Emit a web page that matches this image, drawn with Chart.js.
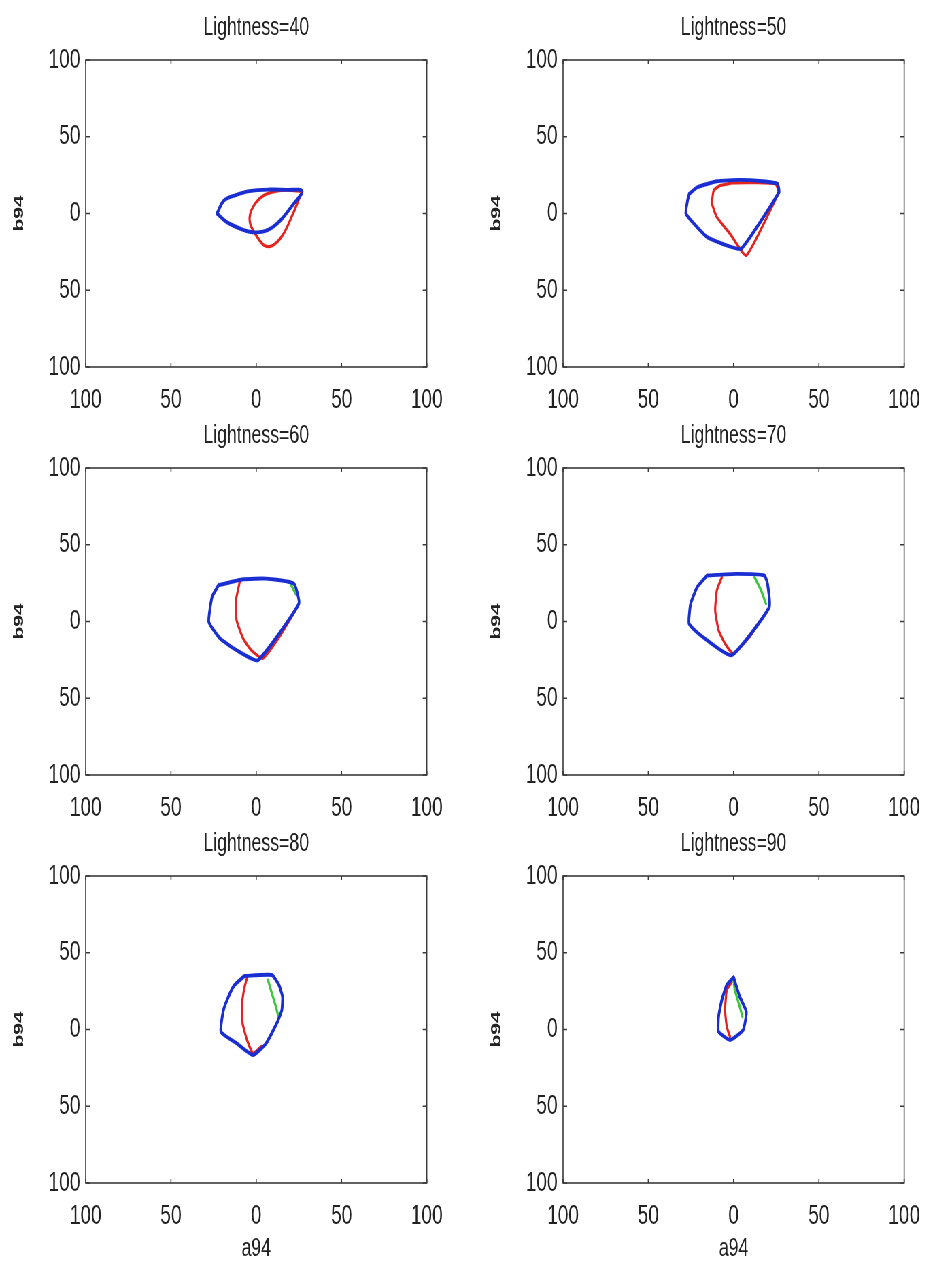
<!DOCTYPE html>
<html>
<head>
<meta charset="utf-8">
<title>Lightness slices</title>
<script src="https://cdn.jsdelivr.net/npm/chart.js@4/dist/chart.umd.min.js"></script>
<style>
    html, body {
        margin: 0;
        padding: 0;
        background: #fff;
        overflow: hidden;
    }
    /* the panels are laid out wide and squeezed horizontally, giving the tall narrow lettering */
    #sheet {
        position: relative;
        width: 1371px;
        height: 1268px;
        transform: scaleX(0.68);
        transform-origin: 0 0;
    }
    #sheet canvas {
        position: absolute;
    }
</style>
</head>
<body>
<div id="sheet">
    <canvas id="p40" width="667" height="408" style="left:0;top:0"></canvas>
    <canvas id="p50" width="667" height="408" style="left:702px;top:0"></canvas>
    <canvas id="p60" width="667" height="408" style="left:0;top:408px"></canvas>
    <canvas id="p70" width="667" height="408" style="left:702px;top:408px"></canvas>
    <canvas id="p80" width="667" height="452" style="left:0;top:816px"></canvas>
    <canvas id="p90" width="667" height="452" style="left:702px;top:816px"></canvas>
</div>

<script>
// Axis ticks (labels are shown without sign)
const axisTicks = [-100, -50, 0, 50, 100];

// Gamut outlines per lightness, [a94, b94] pairs
const blue40 = [[-23, 0], [-19, 8.4], [-12, 12], [-4, 14.6], [7.7, 15.6], [18, 15.4], [26.9, 14.5],
    [21, 5], [15, -3.5], [9.6, -8.9], [4, -11.8], [-2, -12.2], [-7.7, -10.6], [-17.3, -5.6], [-23, 0]];
const red40 = [[26.9, 14.5], [18, 15.2], [11.5, 14.5], [4.8, 12.1], [0, 7.4], [-3.5, 0], [-3.5, -6.7],
    [0, -14.3], [4.8, -20.8], [9.6, -20.8], [15.4, -14.3], [21.1, -1.3], [26.9, 14.5]];
const green40 = [];

const blue50 = [[-26, 12.8], [-21.3, 17.1], [-9.8, 21], [3.6, 21.9], [17.1, 21], [25.7, 19.3], [26.6, 13.8],
    [4.6, -22.9], [-4, -20.8], [-15.5, -15.4], [-23.2, -6.7], [-28, 0], [-27, 8.4], [-26, 12.8]];
const red50 = [[26.6, 13.8], [7.5, -27.3], [-2.1, -13.2], [-9.8, -2.4], [-12.6, 6.3], [-11.7, 14.9],
    [-7.9, 18.2], [-0.2, 19.9], [13.2, 20.1], [24.7, 19.3], [26.6, 13.8]];
const green50 = [];

const blue60 = [[-22.1, 23.6], [-7.7, 27.5], [5.8, 27.9], [22.1, 24.6], [25, 11.6], [1, -25.2],
    [-11.5, -18.7], [-21.1, -11.2], [-27.8, -0.3], [-25.9, 16], [-22.1, 23.6]];
const red60 = [[-9.6, 26.2], [-11.9, 13.8], [-11.5, 0.8], [-7.7, -11.1], [-2.9, -18.7], [3.8, -24.1],
    [13.4, -10.2], [24, 9.3]];
const green60 = [[20.2, 24.2], [23.1, 18.1]];

const blue70 = [[-15.5, 30], [1.7, 31], [18, 30], [19.9, 24.6], [20.9, 9.3], [-1.1, -21.9],
    [-19.4, -8.9], [-26.1, -1.4], [-25.2, 11.5], [-21.3, 22.5], [-15.5, 30]];
const red70 = [[-6.9, 28.8], [-9.8, 20.3], [-10.8, 7.3], [-8.8, -5.7], [-5, -14.4], [-0.2, -20.9],
    [9.4, -10], [15.1, -0.3]];
const green70 = [[12.3, 28.8], [16.1, 20.3], [19, 11.6]];

const blue80 = [[-6.9, 34.9], [9.2, 35.5], [13.3, 29], [15.4, 21.4], [15, 12.7], [12.5, 5.1], [5.8, -9],
    [-1.9, -16.6], [-11.5, -9], [-20.7, -1.4], [-19.2, 12.7], [-15.4, 23.6], [-12.7, 29], [-6.9, 34.9]];
const red80 = [[-5.2, 34.5], [-7.2, 26], [-8.4, 15], [-8, 4], [-5.5, -6.5], [-1.9, -15.5], [3, -11]];
const green80 = [[6.9, 32.2], [8.6, 25.7], [11.5, 14.9], [13, 8.4]];

const blue90 = [[0, 34], [3.6, 21.3], [7.5, 11.5], [5.6, -0.3], [-2.1, -6.8], [-8.8, -1.4], [-8.8, 8.4],
    [-6.9, 19.2], [-4, 29], [0, 34]];
const red90 = [[-1.1, 31], [-4, 25.7], [-5, 12.7], [-4, 1.8], [-2.1, -4.7]];
const green90 = [[0, 32], [0.7, 25.7], [3.6, 14.9], [5.2, 8.4]];

const FONT = "'Liberation Sans', Arial, Helvetica, sans-serif";
const INK = '#222';

Chart.defaults.font.family = FONT;
Chart.defaults.color = INK;

// Box around the plot area plus short inward ticks on all four sides
const frameTicks = {
    id: 'frameTicks',
    afterDatasetsDraw(chart) {
        const { ctx, chartArea: { left, right, top, bottom }, scales: { x, y } } = chart;
        ctx.save();
        ctx.strokeStyle = '#3a3a3a';
        ctx.lineWidth = 1.6;
        ctx.strokeRect(left, top, right - left, bottom - top);
        ctx.beginPath();
        x.ticks.forEach(t => {
            const px = x.getPixelForValue(t.value);
            ctx.moveTo(px, bottom); ctx.lineTo(px, bottom - 4);
            ctx.moveTo(px, top); ctx.lineTo(px, top + 4);
        });
        y.ticks.forEach(t => {
            const py = y.getPixelForValue(t.value);
            ctx.moveTo(left, py); ctx.lineTo(left + 6, py);
            ctx.moveTo(right, py); ctx.lineTo(right - 6, py);
        });
        ctx.stroke();
        ctx.restore();
    }
};

function toPoints(pairs) {
    return pairs.map(p => ({ x: p[0], y: p[1] }));
}

function line(pairs, color, width, tension) {
    return {
        data: toPoints(pairs),
        showLine: true,
        borderColor: color,
        borderWidth: width,
        pointRadius: 0,
        fill: false,
        tension: tension,
        borderCapStyle: 'round',
        borderJoinStyle: 'round'
    };
}

function makePanel(id, lightness, blue, red, green, bottomRow, tension) {
    const ctx = document.getElementById(id);
    const tickFont = { size: 28 };

    return new Chart(ctx, {
        type: 'scatter',
        data: {
            // first dataset ends up on top
            datasets: [
                line(blue, '#1a2ed2', 3.9, tension),
                line(green, '#3cc83a', 3.2, 0.1),
                line(red, '#e3241f', 3.2, tension)
            ]
        },
        options: {
            responsive: false,
            animation: false,
            layout: { padding: { right: 30, left: 0, top: 0, bottom: 0 } },
            plugins: {
                legend: { display: false },
                tooltip: { enabled: false }
            },
            scales: {
                x: {
                    type: 'linear',
                    position: 'bottom',
                    min: -100,
                    max: 100,
                    afterBuildTicks: s => { s.ticks = axisTicks.map(v => ({ value: v })); },
                    ticks: {
                        font: tickFont,
                        padding: 16,
                        maxRotation: 0,
                        autoSkip: false,
                        callback: v => Math.abs(v)
                    },
                    grid: { display: false, drawTicks: false },
                    border: { display: false },
                    title: {
                        display: bottomRow,
                        text: 'a94',
                        font: { size: 26 },
                        padding: { top: 0, bottom: 4 }
                    },
                    afterFit: s => { s.height = bottomRow ? 85 : 41; }
                },
                // carries the panel heading, centred over the plot box
                top: {
                    type: 'linear',
                    position: 'top',
                    min: -100,
                    max: 100,
                    ticks: { display: false },
                    grid: { display: false, drawTicks: false },
                    border: { display: false },
                    title: {
                        display: true,
                        text: 'Lightness=' + lightness,
                        font: { size: 26 },
                        padding: { top: 12, bottom: 0 }
                    },
                    afterFit: s => { s.height = 60; }
                },
                y: {
                    type: 'linear',
                    position: 'left',
                    min: -100,
                    max: 100,
                    afterBuildTicks: s => { s.ticks = axisTicks.map(v => ({ value: v })); },
                    ticks: {
                        font: tickFont,
                        padding: 8,
                        autoSkip: false,
                        callback: v => Math.abs(v)
                    },
                    grid: { display: false, drawTicks: false },
                    border: { display: false },
                    title: {
                        display: true,
                        text: 'b94',
                        font: { size: 21, weight: 'bold' },
                        padding: { top: 16, bottom: 0 }
                    },
                    afterFit: s => { s.width = 126; }
                }
            }
        },
        plugins: [frameTicks]
    });
}

makePanel('p40', 40, blue40, red40, green40, false, 0.35);
makePanel('p50', 50, blue50, red50, green50, false, 0.15);
makePanel('p60', 60, blue60, red60, green60, false, 0.15);
makePanel('p70', 70, blue70, red70, green70, false, 0.15);
makePanel('p80', 80, blue80, red80, green80, true, 0.15);
makePanel('p90', 90, blue90, red90, green90, true, 0.15);
</script>
</body>
</html>
